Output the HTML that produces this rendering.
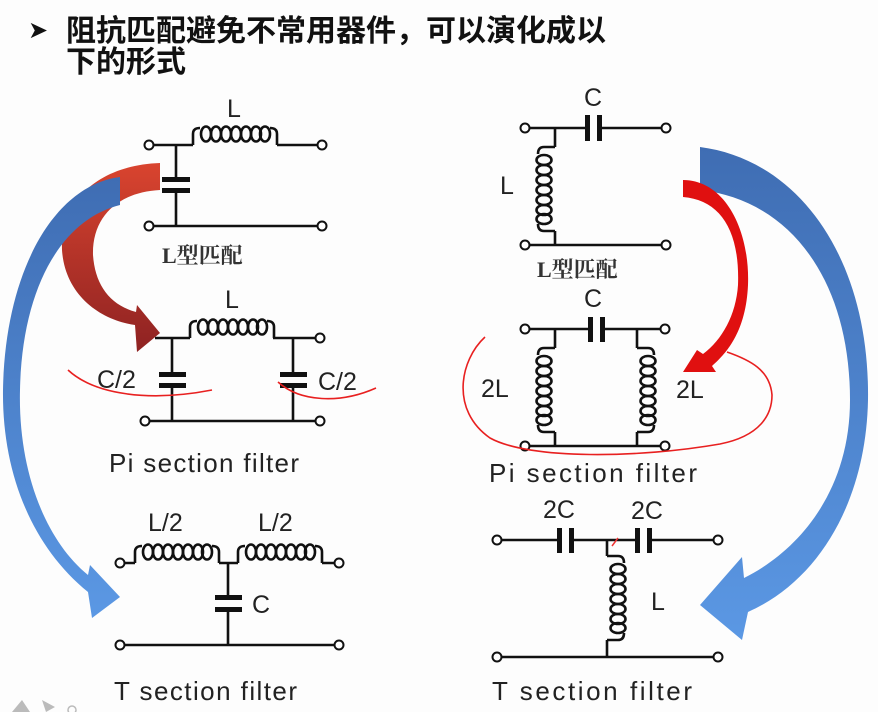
<!DOCTYPE html>
<html><head><meta charset="utf-8"><style>
html,body{margin:0;padding:0;background:#fdfdfd;}
svg{display:block;}
.t{font-family:"Liberation Sans",sans-serif;fill:#222;}
.cn{font-family:"Liberation Serif","Noto Serif CJK SC",serif;fill:#333;font-weight:bold;}
</style></head><body>
<svg width="878" height="712" viewBox="0 0 878 712" xmlns="http://www.w3.org/2000/svg">
<defs>
<g id="hc" fill="none" stroke="#111" stroke-width="2.6">
<path d="M0,0 V-11 Q0,-17 7,-17"/>
<ellipse cx="13" cy="-11" rx="5" ry="7.5"/><ellipse cx="23" cy="-11" rx="5" ry="7.5"/><ellipse cx="33" cy="-11" rx="5" ry="7.5"/><ellipse cx="43" cy="-11" rx="5" ry="7.5"/><ellipse cx="53" cy="-11" rx="5" ry="7.5"/><ellipse cx="63" cy="-11" rx="5" ry="7.5"/><ellipse cx="72" cy="-11" rx="5" ry="7.5"/>
<path d="M77,-17 Q84,-17 84,-11 V0"/>
</g>
<g id="vc" fill="none" stroke="#111" stroke-width="2.6">
<path d="M0,0 H-11 Q-17,0 -17,7"/>
<ellipse cx="-11" cy="13" rx="7.5" ry="5"/><ellipse cx="-11" cy="23" rx="7.5" ry="5"/><ellipse cx="-11" cy="33" rx="7.5" ry="5"/><ellipse cx="-11" cy="43" rx="7.5" ry="5"/><ellipse cx="-11" cy="53" rx="7.5" ry="5"/><ellipse cx="-11" cy="63" rx="7.5" ry="5"/><ellipse cx="-11" cy="72" rx="7.5" ry="5"/>
<path d="M-17,77 Q-17,84 -11,84 H0"/>
</g>
<linearGradient id="rg" x1="0" y1="0" x2="0" y2="1"><stop offset="0" stop-color="#d9442f"/><stop offset="1" stop-color="#8e2222"/></linearGradient>
<linearGradient id="bg" x1="0" y1="0" x2="0" y2="1"><stop offset="0" stop-color="#3f6db3"/><stop offset="1" stop-color="#5b98e4"/></linearGradient>
</defs>

<!-- title -->
<text x="28" y="38" style="font-family:'DejaVu Sans',sans-serif;font-size:24px" fill="#111">➤</text>
<text x="66" y="41" style="font-family:'Liberation Sans','Noto Sans CJK SC',sans-serif;font-size:30px;font-weight:bold" fill="#111">阻抗匹配避免不常用器件，可以演化成以</text>
<text x="66" y="72" style="font-family:'Liberation Sans','Noto Sans CJK SC',sans-serif;font-size:30px;font-weight:bold" fill="#111">下的形式</text>

<g stroke="#111" stroke-width="2.6" fill="none">
<path d="M153,145 H193 M277,145 H318 M176,145 V179 M176,190 V226 M153,226 H318"/>
<circle cx="149" cy="145" r="4.5" fill="#fff" stroke-width="2"/><circle cx="322" cy="145" r="4.5" fill="#fff" stroke-width="2"/>
<circle cx="149" cy="226" r="4.5" fill="#fff" stroke-width="2"/><circle cx="322" cy="226" r="4.5" fill="#fff" stroke-width="2"/>
<path d="M155,338 H190 M273,338 H316 M172,338 V374 M172,386 V421 M293,338 V374 M293,386 V421 M149,421 H316"/>
<circle cx="320" cy="338" r="4.5" fill="#fff" stroke-width="2"/>
<circle cx="145" cy="421" r="4.5" fill="#fff" stroke-width="2"/><circle cx="320" cy="421" r="4.5" fill="#fff" stroke-width="2"/>
<path d="M124,563 H135 M322,563 H335 M228,563 V597 M228,611 V645 M124,645 H335"/>
<circle cx="120" cy="563" r="4.5" fill="#fff" stroke-width="2"/><circle cx="339" cy="563" r="4.5" fill="#fff" stroke-width="2"/>
<circle cx="120" cy="645" r="4.5" fill="#fff" stroke-width="2"/><circle cx="339" cy="645" r="4.5" fill="#fff" stroke-width="2"/>
<path d="M529,128 H587 M600,128 H662 M555,128 V147 M555,231 V245 M529,245 H662"/>
<circle cx="525" cy="128" r="4.5" fill="#fff" stroke-width="2"/><circle cx="666" cy="128" r="4.5" fill="#fff" stroke-width="2"/>
<circle cx="525" cy="245" r="4.5" fill="#fff" stroke-width="2"/><circle cx="666" cy="245" r="4.5" fill="#fff" stroke-width="2"/>
<path d="M529,329 H590 M603,329 H661 M555,329 V348 M555,432 V446 M637,329 V348 M637,432 V446 M529,446 H661"/>
<circle cx="525" cy="329" r="4.5" fill="#fff" stroke-width="2"/><circle cx="665" cy="329" r="4.5" fill="#fff" stroke-width="2"/>
<circle cx="525" cy="446" r="4.5" fill="#fff" stroke-width="2"/><circle cx="665" cy="446" r="4.5" fill="#fff" stroke-width="2"/>
<path d="M501,540 H560 M572,540 H638 M650,540 H714 M607,540 V556 M607,640 V657 M501,657 H714"/>
<circle cx="497" cy="540" r="4.5" fill="#fff" stroke-width="2"/><circle cx="718" cy="540" r="4.5" fill="#fff" stroke-width="2"/>
<circle cx="497" cy="657" r="4.5" fill="#fff" stroke-width="2"/><circle cx="718" cy="657" r="4.5" fill="#fff" stroke-width="2"/>
</g>

<use href="#hc" x="193" y="145"/>
<use href="#hc" x="190" y="338"/>
<use href="#hc" x="135" y="563"/>
<use href="#hc" x="238" y="563"/>
<path d="M219,563 H238" stroke="#111" stroke-width="2.6"/>
<use href="#vc" x="555" y="147"/>
<use href="#vc" x="555" y="348"/>
<g transform="translate(637,348) scale(-1,1)"><use href="#vc"/></g>
<g transform="translate(607,556) scale(-1,1)"><use href="#vc"/></g>

<g fill="#111">
<rect x="162" y="177" width="28" height="5"/><rect x="162" y="188" width="28" height="5"/>
<rect x="159" y="372" width="27" height="5"/><rect x="159" y="383" width="27" height="5"/>
<rect x="280" y="372" width="27" height="5"/><rect x="280" y="383" width="27" height="5"/>
<rect x="215" y="595" width="27" height="5"/><rect x="215" y="607" width="27" height="5"/>
<rect x="585" y="115" width="5" height="26"/><rect x="597" y="115" width="5" height="26"/>
<rect x="588" y="317" width="5" height="25"/><rect x="600" y="317" width="5" height="25"/>
<rect x="557" y="528" width="5" height="25"/><rect x="569" y="528" width="5" height="25"/>
<rect x="635" y="528" width="5" height="25"/><rect x="647" y="528" width="5" height="25"/>
</g>
<path d="M612,546 L618,538" stroke="#e33" stroke-width="1.5"/>

<g class="t" style="font-size:25px">
<text x="227" y="117">L</text>
<text x="225" y="308">L</text>
<text x="97" y="388">C/2</text>
<text x="318" y="390">C/2</text>
<text x="148" y="531">L/2</text>
<text x="258" y="531">L/2</text>
<text x="252" y="613">C</text>
<text x="584" y="106">C</text>
<text x="500" y="194">L</text>
<text x="584" y="307">C</text>
<text x="481" y="397">2L</text>
<text x="676" y="398">2L</text>
<text x="543" y="518">2C</text>
<text x="631" y="519">2C</text>
<text x="651" y="610">L</text>
</g>
<g class="t" style="font-size:26px">
<text x="109" y="472" textLength="190">Pi section filter</text>
<text x="489" y="482" textLength="208">Pi section filter</text>
<text x="114" y="700" textLength="183">T section filter</text>
<text x="492" y="700" textLength="200">T section filter</text>
</g>
<text class="cn" x="162" y="263" style="font-size:22px">L型匹配</text>
<text class="cn" x="537" y="277" style="font-size:22px">L型匹配</text>

<path d="M160,163 C100,165 60,200 62,250 C65,295 100,320 135,325 L137,352 L160,333 L137,305 L136,312 C110,305 95,285 93,255 C92,215 120,192 160,190 Z" fill="url(#rg)"/>
<path d="M120,177 C55,185 5,270 3,390 C2,470 30,545 88,592 L92,618 L120,597 L90,565 L88,575 C45,540 18,470 20,390 C22,290 60,220 120,205 Z" fill="url(#bg)"/>
<path d="M700,147 C800,160 870,260 868,400 C866,500 820,580 748,612 L742,640 L700,605 L742,557 L744,578 C800,550 850,490 850,400 C850,280 790,200 700,190 Z" fill="url(#bg)"/>
<path d="M683,180 C725,180 750,230 748,285 C746,330 728,352 712,366 L716,372 L683,372 L697,350 L703,354 C722,340 736,315 738,285 C740,230 720,200 683,197 Z" fill="#e01010"/>

<g fill="none" stroke="#e82020" stroke-width="1.6">
<path d="M68,370 C95,395 150,402 212,390"/>
<path d="M278,382 C300,402 340,404 376,388"/>
<path d="M485,337 C460,360 450,410 490,438 C530,460 640,458 720,444 C760,436 772,415 772,395 C770,370 750,360 727,352"/>
</g>

<g fill="#bbb"><path d="M12,712 L22,700 L30,712 Z"/><path d="M42,700 L55,707 L46,712 Z"/><circle cx="72" cy="710" r="4" fill="none" stroke="#bbb" stroke-width="1.5"/></g>
</svg>
</body></html>
